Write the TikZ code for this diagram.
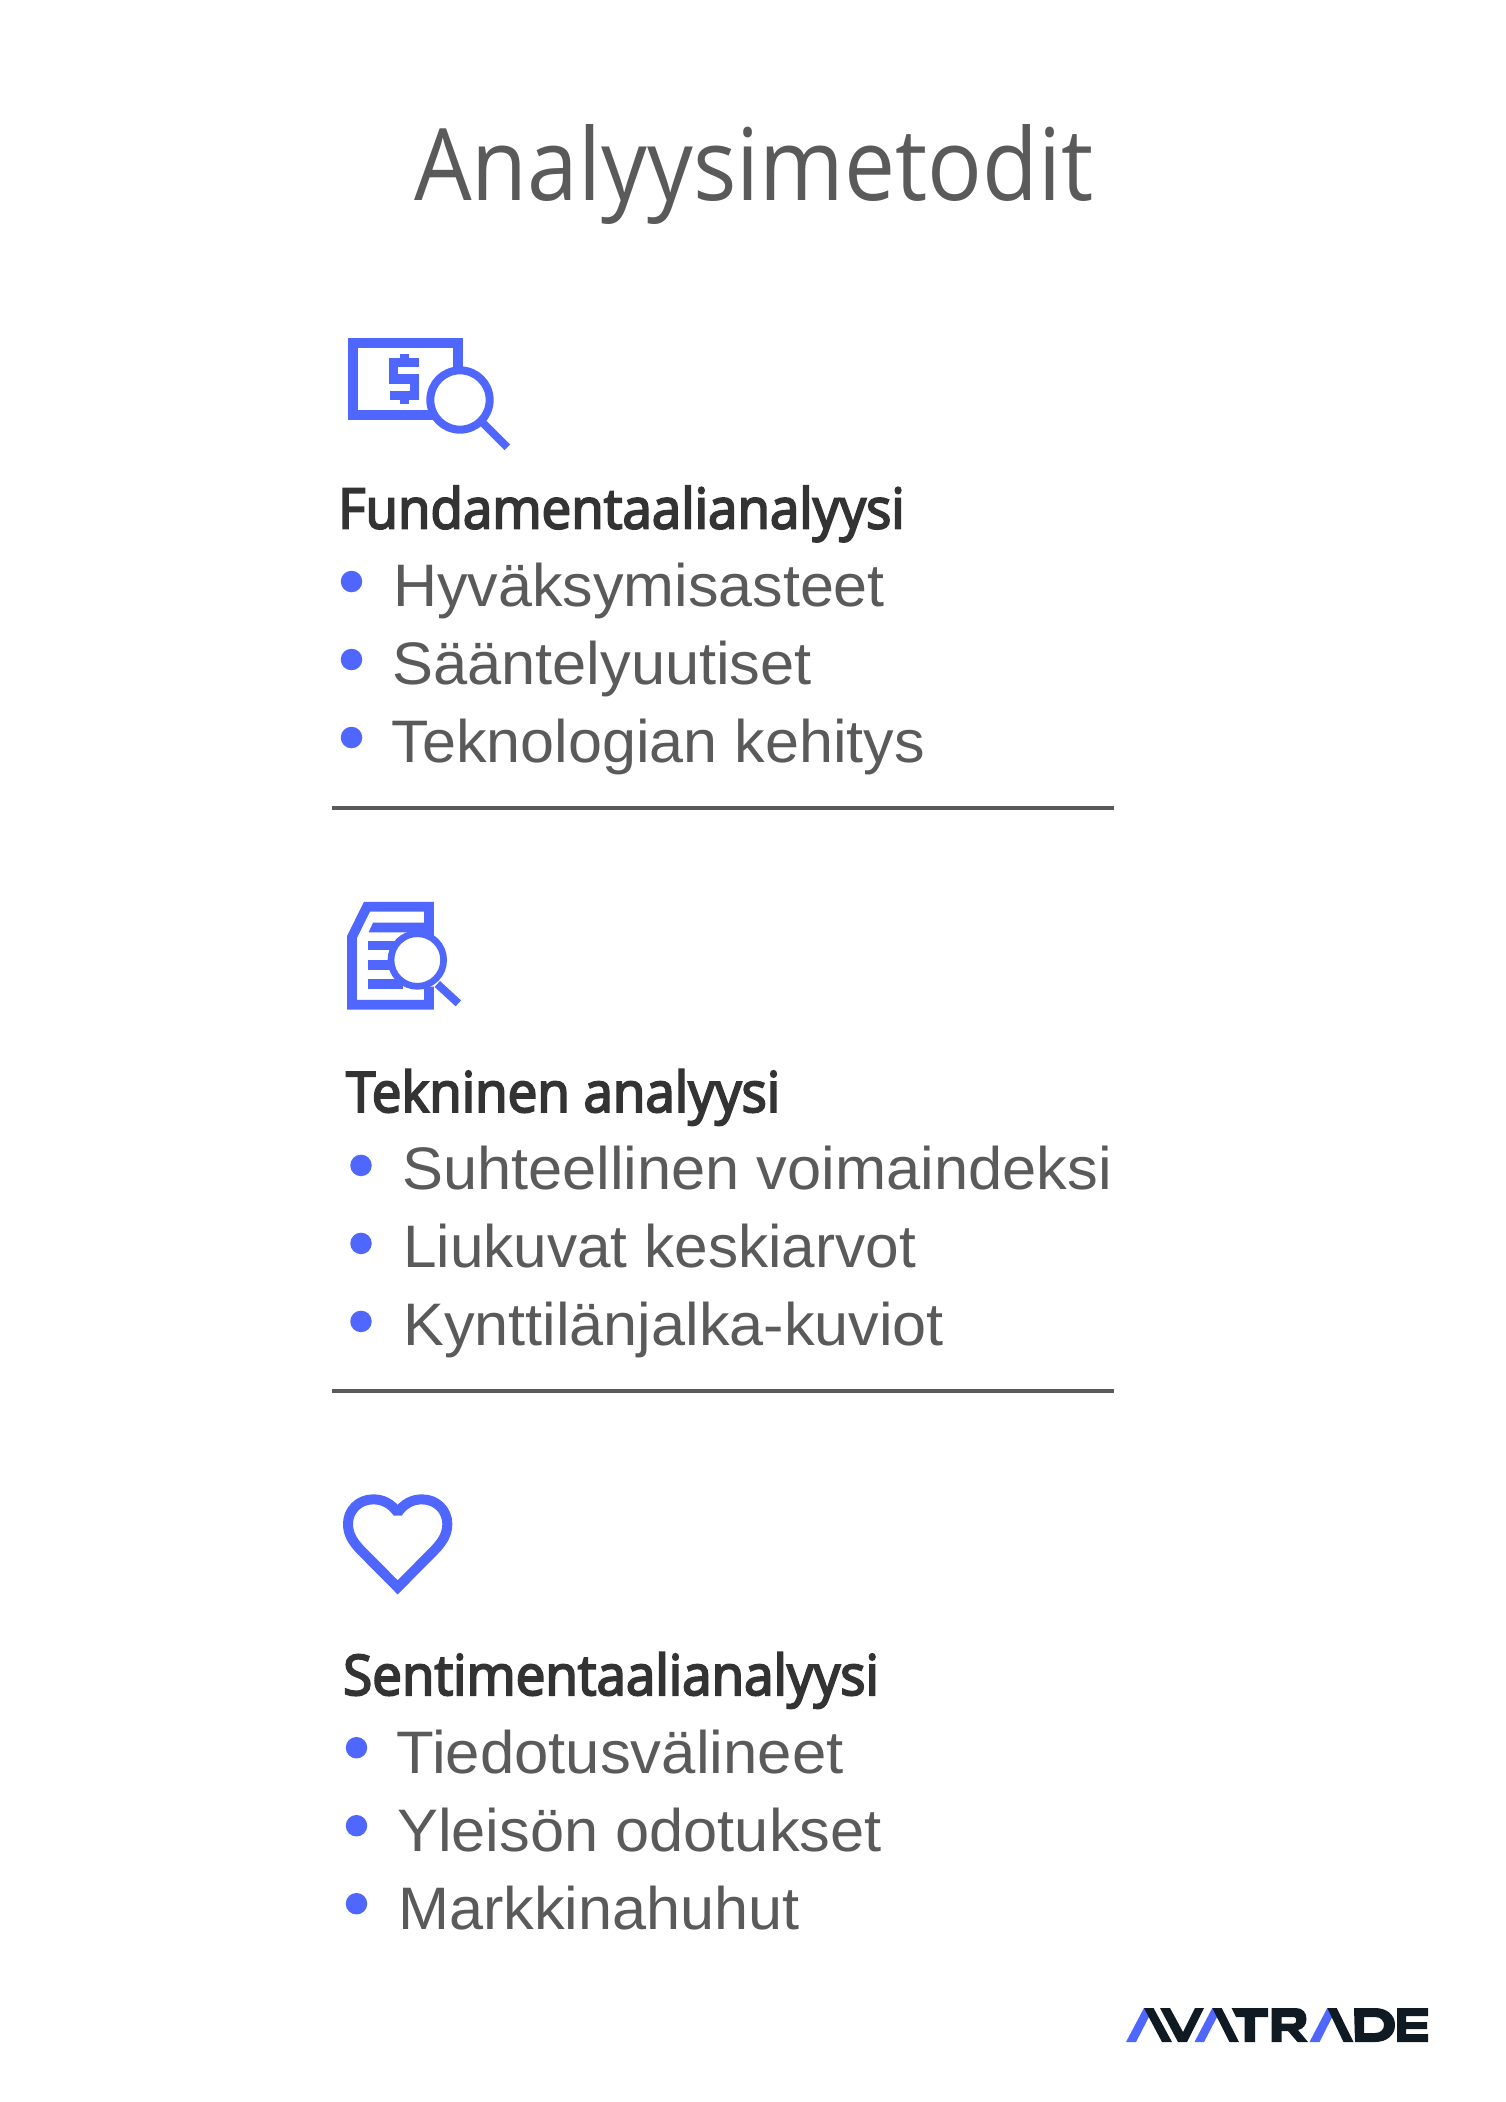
\documentclass[tikz,border=0pt]{standalone}
\usepackage{fontspec}
\setmainfont{Liberation Sans}
\newfontfamily\titlefont[FakeStretch=0.91]{Open Sans}
\newfontfamily\headfont[FakeStretch=0.945,FakeBold=3.5]{Open Sans}
\newcommand{\wfit}[2]{\scalebox{#1}[1]{#2}}
\definecolor{brandblue}{HTML}{4F67FF}
\definecolor{inkdark}{HTML}{101A22}
\definecolor{textgray}{HTML}{5A5A5A}
\definecolor{headdark}{HTML}{333333}
\tikzset{
  titletext/.style={anchor=base west,inner sep=0pt,text=textgray,font=\titlefont\fontsize{100}{110}\selectfont},
  headtext/.style={anchor=base west,inner sep=0pt,text=headdark,font=\headfont\fontsize{56}{60}\selectfont},
  itemtext/.style={anchor=base west,inner sep=0pt,text=textgray,font=\fontsize{60}{66}\selectfont},
  bulletdot/.style={circle,fill=brandblue,inner sep=0pt,minimum size=21.5pt},
  rulerline/.style={draw=textgray,line width=4pt},
  iconline/.style={draw=brandblue,line join=miter,miter limit=4},
}
\begin{document}
\begin{tikzpicture}[x=1pt,y=-1pt]
\useasboundingbox[fill=white] (0,0) rectangle (1506,2102);
\node[titletext] (title) at (414,200) {Analyysimetodit};
% --- icon 1
\begin{scope}[shift={(320,310)},x=0.3333pt,y=-0.3333pt]
  \draw[iconline,line width=10pt] (415,190) -- (415,99) -- (99,99) -- (99,316) -- (350,316);
  \draw[iconline,line width=9pt] (297,158) -- (222,158) -- (222,207) -- (285,207) -- (285,257) -- (210,257);
  \draw[iconline,line width=9pt] (253,132) -- (253,150) (253,265) -- (253,282);
  \draw[iconline,fill=white,line width=8pt] (420,270) circle[radius=89];
  \draw[iconline,line width=8pt] (490,340) -- (562,412);
\end{scope}
\node[headtext] (h1) at (338,528.5) {Fundamentaalianalyysi};
\node[bulletdot] (b1a) at (351.5,581.5) {};
\node[bulletdot] (b1b) at (351.5,659.5) {};
\node[bulletdot] (b1c) at (351.5,737.5) {};
\node[itemtext] (t1a) at (393,606) {\wfit{1.017}{Hyväksymisasteet}};
\node[itemtext] (t1b) at (392,684) {\wfit{1.023}{Sääntelyuutiset}};
\node[itemtext] (t1c) at (391.5,762) {\wfit{1.018}{Teknologian kehitys}};
\draw[rulerline] (332,808) -- (1114,808);
% --- icon 2
\begin{scope}[shift={(320,880)},x=0.3333pt,y=-0.3333pt]
  \draw[iconline,line width=9.7pt] (327,170) -- (327,80) -- (141,80) -- (96,171) -- (96,374) -- (327,374) -- (327,320);
  \fill[brandblue] (146,157) -- (159,128) -- (327,128) -- (327,157) -- cycle;
  \draw[iconline,line width=9.5pt] (143,197) -- (240,197) (143,255) -- (240,255) (143,312) -- (250,312);
  \draw[iconline,fill=white,line width=6.7pt] (292,240) circle[radius=79];
  \draw[iconline,line width=8pt] (352,312) -- (415,370);
\end{scope}
\node[headtext] (h2) at (346,1112) {Tekninen analyysi};
\node[bulletdot] (b2a) at (361,1165.4) {};
\node[bulletdot] (b2b) at (361,1243.4) {};
\node[bulletdot] (b2c) at (361,1321.4) {};
\node[itemtext] (t2a) at (402,1189.7) {\wfit{1.023}{Suhteellinen voimaindeksi}};
\node[itemtext] (t2b) at (403,1267.7) {\wfit{1.005}{Liukuvat keskiarvot}};
\node[itemtext] (t2c) at (403,1345.7) {\wfit{1.02}{Kynttilänjalka-kuviot}};
\draw[rulerline] (332,1391.4) -- (1114,1391.4);
% --- icon 3
\begin{scope}[shift={(320,1470)},x=0.3333pt,y=-0.3333pt]
  \draw[iconline,line width=10pt,miter limit=1.5] (233,128) .. controls (215,102) and (190,88) .. (160,88)
    .. controls (115,88) and (84,122) .. (84,162) .. controls (84,192) and (98,214) .. (120,238)
    -- (233,352) -- (346,238) .. controls (368,214) and (382,192) .. (382,162)
    .. controls (382,122) and (351,88) .. (306,88) .. controls (276,88) and (251,102) .. (233,128) -- cycle;
\end{scope}
\node[headtext] (h3) at (343,1695) {Sentimentaalianalyysi};
\node[bulletdot] (b3a) at (356.5,1747.7) {};
\node[bulletdot] (b3b) at (356.5,1825.7) {};
\node[bulletdot] (b3c) at (356.5,1903.7) {};
\node[itemtext] (t3a) at (396.5,1773.3) {\wfit{1.028}{Tiedotusvälineet}};
\node[itemtext] (t3b) at (397,1851.3) {\wfit{1.023}{Yleisön odotukset}};
\node[itemtext] (t3c) at (398,1929.3) {\wfit{1.02}{Markkinahuhut}};
% --- logo
\fill[brandblue] (1126,2042) -- (1136,2042) -- (1153.5,2008) -- (1144,2008) -- cycle;
\fill[inkdark] (1144,2008) -- (1153.5,2008) -- (1172,2042) -- (1162,2042) -- cycle;
\fill[inkdark] (1160,2008) -- (1170,2008) -- (1183,2032) -- (1195,2008) -- (1204,2008) -- (1187,2042) -- (1178,2042) -- cycle;
\fill[brandblue] (1194.5,2042) -- (1204,2042) -- (1221.7,2008) -- (1212.3,2008) -- cycle;
\fill[inkdark] (1212.3,2008) -- (1221.7,2008) -- (1239,2042) -- (1229.5,2042) -- cycle;
\fill[inkdark] (1231.5,2008) -- (1268,2008) -- (1268,2017) -- (1255,2017) -- (1255,2042) -- (1244.5,2042) -- (1244.5,2017) -- (1236,2017) -- cycle;
\fill[inkdark,even odd rule] (1271.5,2008) -- (1296,2008) .. controls (1303,2008) and (1306.5,2013) .. (1306.5,2019)
   .. controls (1306.5,2025) and (1303,2029) .. (1298,2030) -- (1308,2042) -- (1297.5,2042) -- (1288,2031) -- (1281.5,2031) -- (1281.5,2042) -- (1271.5,2042) -- cycle
   (1281.5,2017) -- (1294,2017) .. controls (1297,2017) and (1297,2023.5) .. (1294,2023.5) -- (1281.5,2023.5) -- cycle;
\fill[brandblue] (1309.5,2042) -- (1319.5,2042) -- (1336.7,2008) -- (1327.3,2008) -- cycle;
\fill[inkdark] (1327.3,2008) -- (1336.7,2008) -- (1353.5,2042) -- (1343.5,2042) -- cycle;
\fill[inkdark,even odd rule] (1354,2008) -- (1375,2008) .. controls (1387,2008) and (1395,2015) .. (1395,2025)
   .. controls (1395,2035) and (1387,2042) .. (1375,2042) -- (1355,2042) -- cycle
   (1364,2017) -- (1375,2017) .. controls (1387,2017) and (1387,2033) .. (1375,2033) -- (1364,2033) -- cycle;
\fill[inkdark] (1397,2008) -- (1428,2008) -- (1428,2016) -- (1406,2016) -- (1406,2022) -- (1427,2022) -- (1427,2029) -- (1406,2029) -- (1406,2034) -- (1428,2034) -- (1428,2042) -- (1397,2042) -- cycle;
\end{tikzpicture}
\end{document}
